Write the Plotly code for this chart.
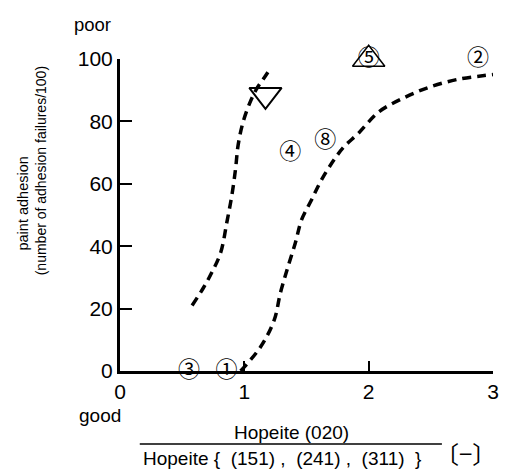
import plotly.graph_objects as go

# Left dashed curve
left_x = [0.58, 0.67, 0.74, 0.81, 0.86, 0.90, 0.93, 0.95, 0.99, 1.045, 1.10, 1.16, 1.21]
left_y = [21, 26.6, 31.7, 38, 47.8, 56.4, 65, 72.4, 79.8, 86, 90.5, 94, 97]

# Right dashed curve
right_x = [0.97, 1.13, 1.24, 1.29, 1.35, 1.41, 1.46, 1.54, 1.62, 1.72, 1.80, 1.92, 2.08, 2.28, 2.49, 2.72, 2.93, 3.0]
right_y = [0, 7.7, 16.3, 25, 33.3, 41, 48.4, 54.8, 61.2, 67.6, 71.8, 76.3, 83, 87.5, 91, 93.5, 94.7, 95]

# Circled sample labels
label_text = ["③", "①", "④", "⑧", "⑤", "②"]
label_x = [0.555, 0.857, 1.37, 1.65, 2.0, 2.88]
label_y = [0, 0, 69.8, 73.4, 99.9, 99.9]

# Triangle markers
tri_down_x = [1.17]
tri_down_y = [88.5]
tri_up_x = [2.0]
tri_up_y = [99.9]

x_ticks = [0, 1, 2, 3]
y_ticks = [0, 20, 40, 60, 80, 100]

FONT = "Liberation Sans, Arial, sans-serif"
CJK = "Noto Sans CJK JP, sans-serif"

fig = go.Figure()

fig.add_trace(go.Scatter(x=left_x, y=left_y, mode="lines",
                         line=dict(color="black", width=3.5, dash="9px,6px", shape="spline"),
                         showlegend=False, cliponaxis=False))
fig.add_trace(go.Scatter(x=right_x, y=right_y, mode="lines",
                         line=dict(color="black", width=3.5, dash="9px,6px", shape="spline"),
                         showlegend=False, cliponaxis=False))

fig.add_trace(go.Scatter(x=tri_down_x, y=tri_down_y, mode="markers",
                         marker=dict(symbol="triangle-down-open", size=28, color="black",
                                     line=dict(width=2, color="black")),
                         showlegend=False, cliponaxis=False))
fig.add_trace(go.Scatter(x=tri_up_x, y=tri_up_y, mode="markers",
                         marker=dict(symbol="triangle-up-open", size=28, color="black",
                                     line=dict(width=1.5, color="black")),
                         showlegend=False, cliponaxis=False))

fig.add_trace(go.Scatter(x=label_x, y=label_y, mode="text", text=label_text,
                         textposition="middle center",
                         textfont=dict(family=CJK, size=22, color="black"),
                         showlegend=False, cliponaxis=False))


def ann(text, x, y, size, family=FONT, angle=0):
    return dict(text=text, x=x, y=y, xref="paper", yref="paper", showarrow=False,
                xanchor="center", yanchor="middle", textangle=angle,
                font=dict(family=family, size=size, color="black"))


fig.update_layout(
    width=506, height=470,
    margin=dict(l=120, r=7, t=59, b=99),
    paper_bgcolor="white", plot_bgcolor="white",
    xaxis=dict(range=[0, 3], tickvals=x_ticks, ticktext=[str(v) for v in x_ticks],
               showgrid=False, zeroline=False, showline=True, linecolor="black", linewidth=2.5,
               ticks="inside", ticklen=10, tickwidth=1.5, tickcolor="black",
               ticklabelstandoff=0,
               tickfont=dict(family=FONT, size=21, color="black")),
    yaxis=dict(range=[0, 100], tickvals=y_ticks, ticktext=[str(v) for v in y_ticks],
               showgrid=False, zeroline=False, showline=True, linecolor="black", linewidth=3,
               ticks="inside", ticklen=12, tickwidth=1.5, tickcolor="black",
               ticklabelstandoff=0,
               tickfont=dict(family=FONT, size=21, color="black")),
    shapes=[dict(type="line", xref="paper", yref="paper", x0=0.053, x1=0.863,
                 y0=-0.234, y1=-0.234, line=dict(color="black", width=1.5))],
    annotations=[
        ann("poor", -0.074, 1.109, 18.5),
        ann("good", -0.053, -0.144, 19),
        ann("paint adhesion", -0.259, 0.538, 14.5, angle=-90),
        ann("(number of adhesion failures/100)", -0.211, 0.641, 14, angle=-90),
        ann("Hopeite (020)", 0.459, -0.196, 19),
        ann("Hopeite {  (151) ,  (241) ,  (311)  }", 0.433, -0.282, 19),
        ann("〔−〕", 0.926, -0.26, 24, family=CJK),
    ],
)

fig.write_html("out.html")
